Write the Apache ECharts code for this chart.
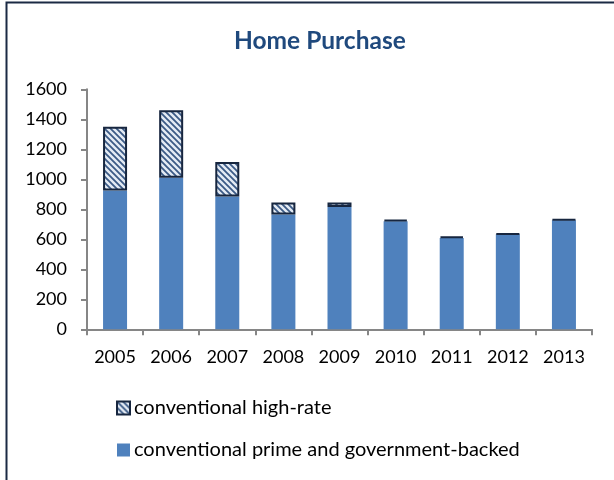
<!DOCTYPE html>
<html>
<head>
<meta charset="utf-8">
<script src="https://cdn.jsdelivr.net/npm/echarts@6/dist/echarts.min.js"></script>
<style>
  html, body { margin: 0; padding: 0; background: #fff; }
  #chart { width: 614px; height: 480px; }
</style>
</head>
<body>
<div id="chart"></div>
<script>
// Home purchase originations (thousands), by year
const years = ['2005', '2006', '2007', '2008', '2009', '2010', '2011', '2012', '2013'];
const primeGov = [925, 1010, 885, 765, 815, 720, 608, 633, 727];
const highRate = [425, 450, 230, 80, 30, 10, 10, 6, 6];
const yTicks = { min: 0, max: 1600, step: 200 };

const FONT = 'Lato';

// diagonal hatch fill for the high-rate segment
function hatch() {
  const s = 6;
  const c = document.createElement('canvas');
  c.width = s; c.height = s;
  const g = c.getContext('2d');
  g.fillStyle = '#e4ebf4';
  g.fillRect(0, 0, s, s);
  g.strokeStyle = '#3b5a86';
  g.lineWidth = 1.8;
  g.beginPath();
  g.moveTo(-1, -1); g.lineTo(s + 1, s + 1);
  g.moveTo(-1, s - 1); g.lineTo(1, s + 1);
  g.moveTo(s - 1, -1); g.lineTo(s + 1, 1);
  g.stroke();
  return { image: c, repeat: 'repeat' };
}

const chart = echarts.init(document.getElementById('chart'), null, { renderer: 'canvas' });
chart.setOption({
  animation: false,
  backgroundColor: '#fff',
  textStyle: { fontFamily: FONT },
  title: {
    text: 'Home Purchase',
    left: 229,
    top: 24,
    textStyle: { fontFamily: FONT, fontSize: 24.5, fontWeight: 'bold', color: '#1f497d' }
  },
  graphic: [{
    type: 'rect',
    shape: { x: 6.5, y: 2.5, width: 700, height: 600 },
    style: { fill: null, stroke: '#1b2a44', lineWidth: 2 },
    silent: true
  }],
  legend: {
    orient: 'vertical',
    left: 116,
    top: 398,
    padding: 0,
    icon: 'rect',
    itemWidth: 13,
    itemHeight: 13,
    itemGap: 22,
    data: ['conventional high-rate', 'conventional prime and government-backed'],
    textStyle: { fontFamily: FONT, fontSize: 20, color: '#000', padding: [0, 0, 0, -1] }
  },
  grid: { left: 87, right: 22, top: 89.3, bottom: 150.7, containLabel: false },
  xAxis: {
    type: 'category',
    data: years,
    axisLine: { lineStyle: { color: '#868686', width: 2 } },
    axisTick: { show: true, length: 6, alignWithLabel: false, lineStyle: { color: '#868686', width: 2 } },
    axisLabel: { margin: 19, fontFamily: FONT, fontSize: 18, color: '#000' }
  },
  yAxis: {
    type: 'value',
    min: yTicks.min,
    max: yTicks.max,
    interval: yTicks.step,
    axisLine: { show: true, lineStyle: { color: '#868686', width: 2 } },
    axisTick: { show: true, length: 6, lineStyle: { color: '#868686', width: 2 } },
    splitLine: { show: false },
    axisLabel: { margin: 20, fontFamily: FONT, fontSize: 18, color: '#000', formatter: v => String(v) }
  },
  series: [
    {
      name: 'conventional prime and government-backed',
      type: 'bar',
      stack: 'total',
      barWidth: 24,
      data: primeGov,
      itemStyle: { color: '#4f81bd' }
    },
    {
      name: 'conventional high-rate',
      type: 'bar',
      stack: 'total',
      barWidth: 24,
      data: highRate,
      itemStyle: { color: hatch(), borderColor: '#17263f', borderWidth: 2 }
    }
  ]
});
</script>
</body>
</html>
